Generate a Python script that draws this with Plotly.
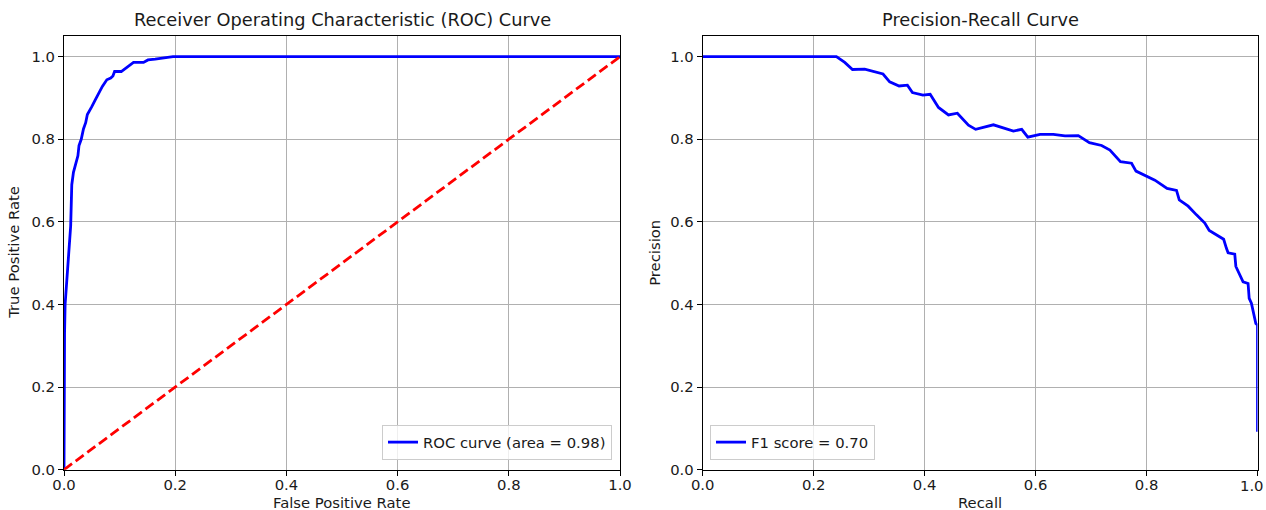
import plotly.graph_objects as go

# ROC curve points
fpr = [0.0, 0.0, 0.001, 0.002, 0.004, 0.006, 0.008, 0.010, 0.012, 0.013, 0.014, 0.017, 0.022, 0.025,
       0.027, 0.031, 0.035, 0.039, 0.042, 0.046, 0.050, 0.056, 0.062, 0.069, 0.077, 0.084, 0.088,
       0.091, 0.103, 0.111, 0.119, 0.125, 0.143, 0.151, 0.164, 0.180, 0.196, 1.0]
tpr = [0.0, 0.25, 0.33, 0.40, 0.44, 0.47, 0.50, 0.55, 0.59, 0.64, 0.69, 0.72, 0.745, 0.76,
       0.785, 0.80, 0.825, 0.84, 0.86, 0.868, 0.879, 0.895, 0.911, 0.928, 0.944, 0.948, 0.953,
       0.964, 0.964, 0.972, 0.979, 0.986, 0.986, 0.992, 0.994, 0.997, 1.0, 1.0]
chance_x = [0.0, 1.0]
chance_y = [0.0, 1.0]
roc_auc = 0.98

# Precision-recall curve points
recall = [0.0, 0.241, 0.256, 0.270, 0.292, 0.310, 0.325, 0.337, 0.354, 0.369, 0.378, 0.397, 0.410,
          0.425, 0.443, 0.459, 0.479, 0.492, 0.524, 0.560, 0.575, 0.586, 0.608, 0.632, 0.653,
          0.677, 0.697, 0.719, 0.734, 0.753, 0.773, 0.781, 0.800, 0.815, 0.837, 0.854, 0.859,
          0.875, 0.890, 0.905, 0.913, 0.926, 0.939, 0.944, 0.947, 0.959, 0.961, 0.974, 0.983,
          0.985, 0.989, 0.997, 1.0, 1.0]
precision = [1.0, 1.0, 0.986, 0.969, 0.970, 0.964, 0.958, 0.939, 0.929, 0.931, 0.913, 0.907, 0.909,
             0.877, 0.859, 0.863, 0.834, 0.824, 0.835, 0.820, 0.824, 0.805, 0.812, 0.812, 0.808,
             0.809, 0.792, 0.785, 0.774, 0.746, 0.742, 0.723, 0.711, 0.701, 0.681, 0.676, 0.653,
             0.638, 0.617, 0.597, 0.579, 0.568, 0.558, 0.536, 0.525, 0.522, 0.492, 0.455, 0.451,
             0.415, 0.403, 0.354, 0.35, 0.092]
f1 = 0.70

tick_vals = [0.0, 0.2, 0.4, 0.6, 0.8, 1.0]
tick_text = ["0.0", "0.2", "0.4", "0.6", "0.8", "1.0"]

W, H = 1266, 510
FONT = "DejaVu Sans"
TXT = "#1a1a1a"
SMALL = 14.8
BIG = 17.8

fig = go.Figure()
fig.add_trace(go.Scatter(x=fpr, y=tpr, mode="lines", line=dict(color="#0000ff", width=2.8),
                         name=f"ROC curve (area = {roc_auc:.2f})", xaxis="x", yaxis="y",
                         legend="legend"))
fig.add_trace(go.Scatter(x=chance_x, y=chance_y, mode="lines",
                         line=dict(color="#ff0000", width=2.8, dash="10px,4.5px"),
                         showlegend=False, xaxis="x", yaxis="y"))
fig.add_trace(go.Scatter(x=recall, y=precision, mode="lines", line=dict(color="#0000ff", width=2.8),
                         name=f"F1 score = {f1:.2f}", xaxis="x2", yaxis="y2", legend="legend2"))

# pixel geometry of the two panels
y_top, y_bot = 36, 469.7
left_px = (64, 620)
right_px = (702.7, 1257.5)


def px_x(p):
    return p / W


def px_y(p):
    return 1 - p / H


axis_common = dict(
    automargin=False,
    showline=True, linecolor="black", linewidth=1.1, mirror=True,
    showgrid=True, gridcolor="#b0b0b0", gridwidth=1.1, zeroline=False,
    ticks="outside", ticklen=5, tickwidth=1.1, tickcolor="black",
    tickvals=tick_vals, ticktext=tick_text,
    tickfont=dict(family=FONT, size=SMALL, color=TXT),
)
xaxis_extra = dict(ticklabelstandoff=-4)

legend_common = dict(
    bgcolor="rgba(255,255,255,0.8)", bordercolor="#cccccc", borderwidth=1,
    font=dict(family=FONT, size=SMALL, color=TXT), yanchor="bottom",
)

fig.update_layout(
    width=W, height=H,
    margin=dict(l=0, r=0, t=0, b=0, autoexpand=False),
    paper_bgcolor="white", plot_bgcolor="white",
    xaxis=dict(domain=[px_x(left_px[0]), px_x(left_px[1])], range=[0, 1], anchor="y",
               **axis_common, **xaxis_extra),
    yaxis=dict(domain=[px_y(y_bot), px_y(y_top)], range=[0, 1.05], anchor="x", **axis_common),
    xaxis2=dict(domain=[px_x(right_px[0]), px_x(right_px[1])], range=[0, 1], anchor="y2",
                **axis_common, **xaxis_extra),
    yaxis2=dict(domain=[px_y(y_bot), px_y(y_top)], range=[0, 1.05], anchor="x2", **axis_common),
    legend=dict(x=px_x(612), y=px_y(460), xanchor="right", **legend_common),
    legend2=dict(x=px_x(710), y=px_y(460), xanchor="left", **legend_common),
    showlegend=True,
)

ann = []
# panel titles
ann.append(dict(text="Receiver Operating Characteristic (ROC) Curve", x=px_x(sum(left_px) / 2), y=px_y(20)))
ann.append(dict(text="Precision-Recall Curve", x=px_x(sum(right_px) / 2), y=px_y(20)))
for a in ann:
    a.update(font=dict(family=FONT, size=BIG, color=TXT))
# axis titles
lab = dict(family=FONT, size=SMALL, color=TXT)
ann.append(dict(text="False Positive Rate", x=px_x(sum(left_px) / 2), y=px_y(502), font=lab))
ann.append(dict(text="Recall", x=px_x(sum(right_px) / 2), y=px_y(502), font=lab))
ann.append(dict(text="True Positive Rate", x=px_x(14), y=px_y((y_top + y_bot) / 2), textangle=-90, font=lab))
ann.append(dict(text="Precision", x=px_x(655), y=px_y((y_top + y_bot) / 2), textangle=-90, font=lab))
for a in ann:
    a.update(xref="paper", yref="paper", showarrow=False, xanchor="center", yanchor="middle")
# last recall tick label sits at the right page edge; plotly drops it, so pin it there
ann.append(dict(text=tick_text[-1], x=1.0, y=px_y(485), xref="paper", yref="paper", showarrow=False,
                xanchor="right", yanchor="middle", font=lab))
fig.update_layout(annotations=ann)

fig.write_html("out.html")
